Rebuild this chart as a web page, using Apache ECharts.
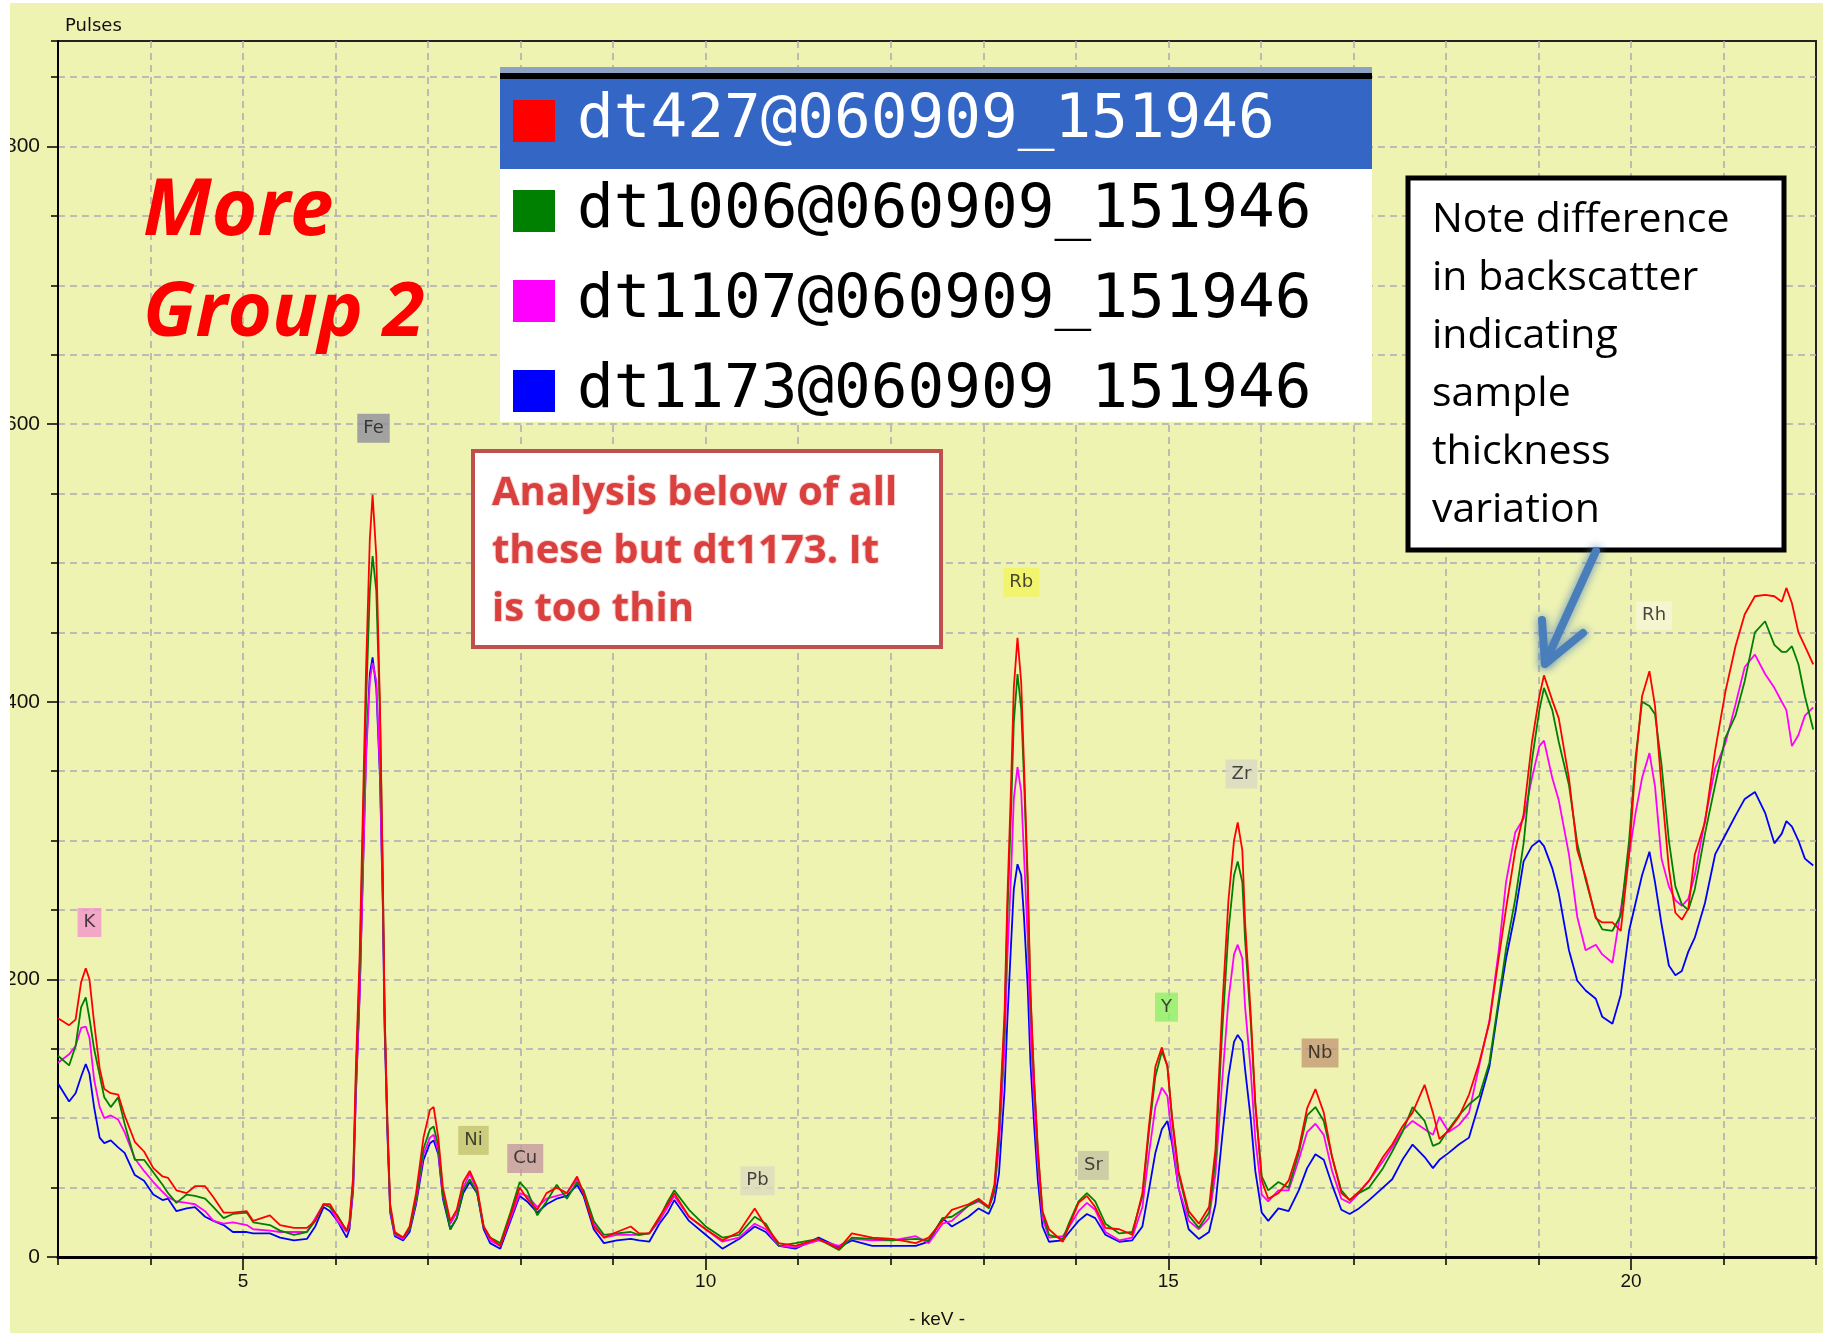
<!DOCTYPE html>
<html><head><meta charset="utf-8">
<script src="https://cdn.jsdelivr.net/npm/echarts@6/dist/echarts.min.js"></script>
<style>
html,body{margin:0;padding:0;background:#fff;width:1826px;height:1333px;overflow:hidden}
#c{position:absolute;left:10px;top:3px;width:1813px;height:1330px}
</style></head><body><div id="c"></div>
<script>
// ---------- data ----------
const seriesNames = ['dt427@060909_151946','dt1006@060909_151946','dt1107@060909_151946','dt1173@060909_151946'];
const keV = [3.00,3.12,3.19,3.25,3.30,3.34,3.39,3.45,3.50,3.57,3.65,3.72,3.83,3.93,4.03,4.13,4.19,4.28,4.39,4.48,4.59,4.68,4.79,4.89,5.04,5.11,5.29,5.40,5.55,5.69,5.78,5.87,5.94,6.02,6.12,
 6.15,6.19,6.22,6.26,6.30,6.33,6.37,6.40,6.44,6.48,6.51,6.53,6.56,6.59,6.64,
 6.73,6.80,6.87,6.95,7.02,7.06,7.11,7.16,7.24,7.31,7.38,7.45,7.53,7.60,7.67,7.78,7.89,7.99,8.07,8.18,8.28,8.39,8.50,8.61,8.68,8.79,8.90,9.04,9.19,9.28,9.39,9.50,
 9.59,9.66,9.82,10.00,10.18,10.36,10.53,10.65,10.79,10.97,11.22,11.44,11.58,11.80,12.02,12.27,12.41,12.56,12.66,12.84,12.95,13.06,
 13.12,13.17,13.23,13.26,13.30,13.33,13.37,13.41,13.44,13.48,13.51,13.55,13.59,13.64,13.71,13.86,13.93,14.03,14.12,14.21,14.32,14.47,14.61,14.72,14.79,14.86,14.93,14.99,15.04,15.11,15.22,15.33,15.44,15.51,15.58,15.65,15.71,15.75,15.80,15.83,15.89,15.94,16.01,16.08,16.19,16.30,16.41,16.50,16.59,16.68,16.77,16.87,
 16.96,17.06,17.17,17.32,17.42,17.53,17.64,17.77,17.86,17.93,18.03,18.14,18.25,18.36,18.47,18.57,18.65,18.75,18.84,18.93,19.01,19.06,19.15,19.22,19.33,19.42,19.51,19.62,19.69,19.80,19.89,19.98,20.05,20.12,20.20,20.26,20.33,20.41,20.48,20.55,20.62,20.69,20.80,20.91,21.02,21.13,21.23,21.34,21.45,21.55,21.63,21.68,21.74,21.81,21.88,21.97];
const dt427 = [172,167,171,198,208,200,169,136,121,118,117,102,83,76,64,58,57,48,46,51,51,43,32,32,33,26,30,23,21,21,26,38,38,29,19,
 26,58,138,217,337,425,517,549,505,397,277,178,98,38,18,
 14,22,46,86,106,108,86,50,26,34,54,62,50,22,14,8,30,50,42,34,46,50,46,58,46,22,14,18,22,17,17,29,
 38,46,29,20,12,18,35,22,10,8,13,6,17,14,13,10,14,26,34,38,42,36,
 52,94,176,257,339,410,446,414,355,274,192,127,78,33,20,11,23,39,44,36,21,20,16,46,94,137,151,137,101,62,33,24,36,78,176,257,300,313,293,241,176,111,55,42,46,55,78,107,121,104,72,46,
 41,47,55,72,81,94,104,124,104,85,91,101,117,140,169,215,251,293,319,371,404,419,401,388,345,293,274,244,241,241,235,290,355,404,422,397,339,280,248,243,251,290,313,365,407,440,463,476,477,476,472,482,471,450,440,427];
const dt1006 = [145,138,152,180,187,172,150,131,115,108,115,96,70,70,61,52,46,39,45,44,42,36,28,31,32,25,23,19,16,18,26,38,36,30,19,
 24,55,130,205,320,400,480,505,480,390,275,175,95,36,17,
 14,20,42,78,92,94,80,45,20,28,48,56,46,22,14,10,32,54,48,30,40,52,42,54,48,26,16,17,18,16,17,28,
 40,48,34,22,14,16,29,24,8,10,13,5,14,13,12,13,12,28,29,37,41,35,
 48,88,168,245,320,385,420,395,345,268,188,125,76,32,16,13,25,40,46,40,24,17,18,44,90,130,148,138,100,60,30,21,32,70,160,235,275,285,270,228,170,110,58,48,54,50,75,102,108,98,72,48,
 41,46,50,64,76,90,108,98,80,82,92,102,110,116,140,185,222,258,298,358,394,410,394,371,340,298,272,245,236,235,246,300,360,400,397,391,355,300,267,254,250,265,305,340,374,390,415,450,458,441,436,436,440,427,404,380];
const dt1107 = [140,146,152,165,166,158,128,108,100,102,99,90,71,62,54,47,43,40,39,38,33,26,24,25,23,20,19,18,18,18,28,38,36,26,18,
 22,50,120,190,290,360,415,428,415,350,260,170,92,34,16,
 13,20,40,74,86,88,76,44,24,32,50,60,48,22,12,8,28,46,44,36,42,44,46,56,46,24,14,16,16,16,17,26,
 36,44,29,20,11,14,24,20,8,7,12,8,13,12,12,15,10,24,26,37,40,36,
 46,80,150,215,275,330,353,335,290,230,165,110,68,28,14,15,22,33,39,34,18,12,14,36,74,108,122,116,86,50,26,20,28,60,125,185,218,225,215,180,135,85,45,40,48,48,70,90,96,88,62,42,
 39,46,55,69,79,91,98,92,88,101,90,95,104,138,170,220,270,306,316,345,368,372,345,329,290,245,221,225,218,212,250,290,320,345,363,339,287,267,257,253,258,275,315,352,370,398,425,434,420,410,400,394,368,376,390,396];
const dt1173 = [125,112,118,130,139,132,108,86,82,84,79,75,59,55,45,41,42,33,35,36,29,26,23,18,18,17,17,14,12,13,22,36,33,26,14,
 20,48,118,188,288,365,420,432,410,345,255,165,90,32,15,
 12,18,38,70,82,84,74,42,20,28,46,54,46,20,10,6,26,44,40,32,38,42,44,52,44,20,10,12,13,12,11,24,
 32,41,26,16,6,13,22,18,8,6,14,7,12,8,8,8,11,28,22,29,35,31,
 40,60,120,170,225,265,283,275,245,195,140,95,55,22,11,12,18,26,31,28,16,11,12,22,48,75,92,98,82,50,20,13,18,38,85,130,155,160,155,135,100,62,32,26,35,33,48,64,74,70,52,34,
 31,35,41,50,56,70,81,72,64,70,75,81,86,111,137,182,215,248,285,296,300,296,280,262,221,199,192,186,173,168,189,235,255,275,292,270,240,210,203,206,220,230,255,290,304,318,330,335,320,298,305,314,310,300,287,282];
const xTickLabels = [5,10,15,20];
const yTickLabels = [0,200,400,600,800];
const elemNames = ['K','Fe','Ni','Cu','Pb','Rb','Sr','Y','Zr','Nb','Rh'];
const elemKeV = [3.34,6.41,7.49,8.05,10.56,13.41,14.19,14.98,15.79,16.64,20.25];
const elemLabelAt = [241,597,84,71,55,486,66,180,348,147,462];

// ---------- styles ----------
const BG = '#EFF3B2';
const lineColors = ['#FF0000','#008000','#FF00FF','#0000FF'];
const elemColors = ['#F293CC','#8E8E9C','#C2C26E','#C4979F','#DCDCBE','#F4F45C','#C4C4A2','#8EEE6A','#DADAC4','#C49A76','#F6F6D6'];
const AX = '"Liberation Sans", Arial, sans-serif';
const allValues = [dt427, dt1006, dt1107, dt1173];

const chart = echarts.init(document.getElementById('c'), null, {renderer:'canvas'});
const lineSeries = seriesNames.map((n,i)=>({
  name:n, type:'line', symbol:'none', showSymbol:false, animation:false,
  data: keV.map((x,j)=>[x, allValues[i][j]]),
  lineStyle:{color:lineColors[i], width:1.8},
  itemStyle:{color:lineColors[i]},
  z: 6 - i
}));
const elemSeries = {
  name:'elements', type:'scatter', symbolSize:1, silent:true, z:7,
  itemStyle:{color:'rgba(0,0,0,0)'},
  data: elemKeV.map((x,i)=>({name:elemNames[i], value:[x, elemLabelAt[i]], label:{backgroundColor:elemColors[i]}})),
  label:{show:true, position:'inside', formatter:'{b}', fontFamily:'"DejaVu Sans", sans-serif', fontSize:18, color:'#1a1a1a', padding:[6,6,5,6]}
};

const noteLines = ['Note difference','in backscatter','indicating','sample','thickness','variation'];
const analysisLines = ['Analysis below of all','these but dt1173. It','is too thin'];
const gridLine = {show:true, showMinLine:false, showMaxLine:false, lineStyle:{color:'#ABABB4', type:[7,5], width:1.5}};

const option = {
  backgroundColor: BG,
  animation:false,
  grid:{left:48, top:38, right:7, bottom:76, show:true, borderColor:'#222', borderWidth:2, backgroundColor:'transparent', outerBoundsMode:'none', containLabel:false},
  xAxis:[{
    type:'value', min:3, max:22, interval:1,
    name:'- keV -', nameLocation:'middle', nameGap:63,
    nameTextStyle:{fontFamily:AX, fontSize:19, color:'#111', verticalAlign:'middle'},
    axisLine:{show:true, onZero:false, lineStyle:{color:'#000', width:3}},
    axisTick:{show:true, length:8, lineStyle:{color:'#000', width:1.5}},
    axisLabel:{formatter:v=>xTickLabels.includes(v)?String(v):'', margin:15, fontFamily:AX, fontSize:19, color:'#111'},
    splitLine:gridLine
  },{
    type:'value', min:3, max:22, position:'bottom',
    axisLine:{show:false}, axisLabel:{show:false}, splitLine:{show:false},
    axisTick:{show:true, customValues:xTickLabels, length:13, lineStyle:{color:'#000', width:1.5}}
  }],
  yAxis:[{
    type:'value', min:0, max:876, interval:50,
    name:'Pulses', nameLocation:'end', nameGap:15,
    nameTextStyle:{fontFamily:'"DejaVu Sans", sans-serif', fontSize:18, color:'#111', align:'left', verticalAlign:'middle', padding:[0,0,0,7]},
    axisLine:{show:true, onZero:false, lineStyle:{color:'#000', width:2}},
    axisTick:{show:true, length:7, lineStyle:{color:'#000', width:1.5}},
    axisLabel:{formatter:v=>yTickLabels.includes(v)?String(v):'', margin:18, fontFamily:AX, fontSize:21, color:'#111'},
    splitLine:gridLine
  },{
    type:'value', min:0, max:876, position:'left',
    axisLine:{show:false}, axisLabel:{show:false}, splitLine:{show:false},
    axisTick:{show:true, customValues:yTickLabels, length:11, lineStyle:{color:'#000', width:1.5}}
  }],
  legend:{
    orient:'vertical', left:503, top:85, padding:0, itemWidth:42, itemHeight:42, itemGap:24,
    icon:'rect', selectedMode:false, z:101,
    textStyle:{fontFamily:'"DejaVu Sans Mono", monospace', fontSize:61, lineHeight:66, color:'#000', padding:[0,0,0,17]},
    data:[{name:seriesNames[0], textStyle:{color:'#fff'}}, seriesNames[1], seriesNames[2], seriesNames[3]]
  },
  graphic:[
    {type:'rect', z:100, shape:{x:490,y:64,width:872,height:355}, style:{fill:'#fff'}},
    {type:'rect', z:100, shape:{x:490,y:64,width:872,height:6}, style:{fill:'#8DA3C6'}},
    {type:'rect', z:100, shape:{x:490,y:70,width:872,height:6}, style:{fill:'#000'}},
    {type:'rect', z:100, shape:{x:490,y:76,width:872,height:90}, style:{fill:'#3467C5'}},
    {type:'rect', z:102, shape:{x:1032,y:407,width:54,height:12}, style:{fill:'#fff'}},
    {type:'text', z:100, x:133, y:210, style:{text:'More', fontFamily:'"Open Sans", sans-serif', fontWeight:'bold', fontStyle:'italic', fontSize:78, fill:'#FF0000', verticalAlign:'middle'}},
    {type:'text', z:100, x:133, y:311, style:{text:'Group 2', fontFamily:'"Open Sans", sans-serif', fontWeight:'bold', fontStyle:'italic', fontSize:76, fill:'#FF0000', verticalAlign:'middle'}},
    {type:'rect', z:100, shape:{x:463,y:448,width:468,height:196}, style:{fill:'#fff', stroke:'#C0504D', lineWidth:4}},
    ...analysisLines.map((t,i)=>({type:'text', z:101, x:482, y:491+i*58, style:{text:t, fontFamily:'"Open Sans", sans-serif', fontWeight:'bold', fontSize:40, fill:'#D9403E', stroke:'#F6D6D6', lineWidth:2, verticalAlign:'middle', shadowColor:'rgba(0,0,0,0.45)', shadowBlur:3, shadowOffsetX:2, shadowOffsetY:2}})),
    {type:'rect', z:100, shape:{x:1398,y:175,width:376,height:372}, style:{fill:'#fff', stroke:'#000', lineWidth:5}},
    {type:'text', z:101, x:1422, y:188, style:{text:noteLines.join('\n'), fontFamily:'"Open Sans", sans-serif', fontSize:41, lineHeight:58, fill:'#000', verticalAlign:'top'}},
    {type:'line', z:100, shape:{x1:1586,y1:548,x2:1535,y2:660}, style:{stroke:'#4A7EBB', lineWidth:8, lineCap:'round', shadowBlur:10, shadowColor:'rgba(74,126,187,0.9)'}},
    {type:'polyline', z:100, shape:{points:[[1532,617],[1535,661],[1573,630]]}, style:{stroke:'#4A7EBB', fill:null, lineWidth:8, lineCap:'round', lineJoin:'round', shadowBlur:10, shadowColor:'rgba(74,126,187,0.9)'}}
  ],
  series:[...lineSeries, elemSeries]
};
chart.setOption(option);
</script></body></html>
